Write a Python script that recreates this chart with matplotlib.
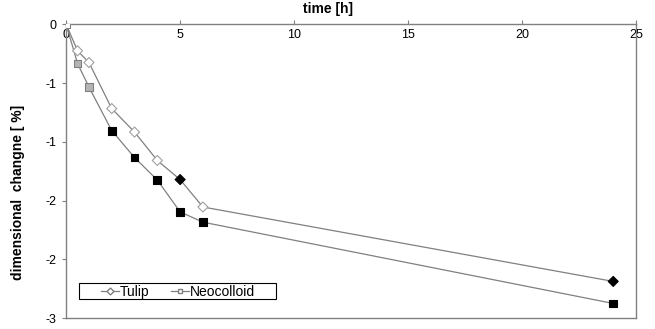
import matplotlib.pyplot as plt
from matplotlib.lines import Line2D
from matplotlib.patches import Rectangle

plt.rcParams['font.family'] = ['Liberation Sans', 'DejaVu Sans']

# time in hours
time_h = [0, 0.5, 1, 2, 3, 4, 5, 6, 24]
tulip = [0, -0.27, -0.39, -0.86, -1.10, -1.39, -1.585, -1.865, -2.625]
neocolloid = [0, -0.40, -0.64, -1.085, -1.36, -1.59, -1.915, -2.02, -2.85]

# marker fills as in the original (some points drawn filled)
tulip_fill = ['white', 'white', 'white', 'white', 'white', 'white', 'black', 'white', 'black']
neo_fill = ['white', '#b4b4b4', '#b4b4b4', 'black', 'black', 'black', 'black', 'black', 'black']

y_ticks = [0, -0.6, -1.2, -1.8, -2.4, -3.0]
y_labels = ['0', '-1', '-1', '-2', '-2', '-3']
x_ticks = [0, 5, 10, 15, 20, 25]

fig = plt.figure(figsize=(6.55, 3.29), dpi=100)
ax = fig.add_axes([0.101, 0.033, 0.870, 0.893])

gray = '#808080'
ax.plot(time_h, tulip, color=gray, lw=0.9, zorder=2)
ax.plot(time_h, neocolloid, color=gray, lw=0.9, zorder=2)

tulip_edge = ['#a0a0a0' if c == 'white' else 'black' for c in tulip_fill]
neo_edge = ['#808080' if c != 'black' else 'black' for c in neo_fill]
ax.scatter(time_h, tulip, marker='D', s=26, facecolors=tulip_fill,
           edgecolors=tulip_edge, linewidths=0.8, zorder=3)
ax.scatter(time_h, neocolloid, marker='s', s=32, facecolors=neo_fill,
           edgecolors=neo_edge, linewidths=0.8, zorder=3)

ax.set_xlim(0, 25)
ax.set_ylim(-3, 0)
ax.set_xticks(x_ticks)
ax.set_yticks(y_ticks)
ax.set_yticklabels(y_labels)

ax.tick_params(axis='x', top=True, labeltop=True, bottom=False, labelbottom=False,
               direction='out', length=3, pad=-15, labelsize=9, color=gray)
ax.tick_params(axis='y', direction='out', length=3, labelsize=9, color=gray, pad=4)
for s in ax.spines.values():
    s.set_color(gray)
    s.set_linewidth(1.0)

ax.text(0.46, 1.03, 'time [h]', transform=ax.transAxes, ha='center', va='bottom',
        fontsize=10, fontweight='bold')
ax.set_ylabel('dimensional  changne [ %]', fontsize=10, fontweight='bold')
ax.yaxis.set_label_coords(-0.072, 0.428)

# legend: frame drawn separately so it can be wider than the entries
ax.add_patch(Rectangle((0.0228, 0.0656), 0.345, 0.0544, transform=ax.transAxes,
                       facecolor='white', edgecolor='black', lw=0.8, zorder=4))
handles = [
    Line2D([], [], color=gray, lw=0.9, marker='D', markersize=3.5,
           markerfacecolor='white', markeredgecolor=gray),
    Line2D([], [], color=gray, lw=0.9, marker='s', markersize=3.5,
           markerfacecolor='white', markeredgecolor=gray),
]
leg = ax.legend(handles, ['Tulip', 'Neocolloid'], loc='center left', ncol=2,
                bbox_to_anchor=(0.061, 0.089), fontsize=10, frameon=False,
                borderpad=0, handlelength=1.3, handletextpad=0.05,
                columnspacing=1.55, borderaxespad=0)
leg.set_zorder(5)

plt.savefig('out.png', dpi=100)
